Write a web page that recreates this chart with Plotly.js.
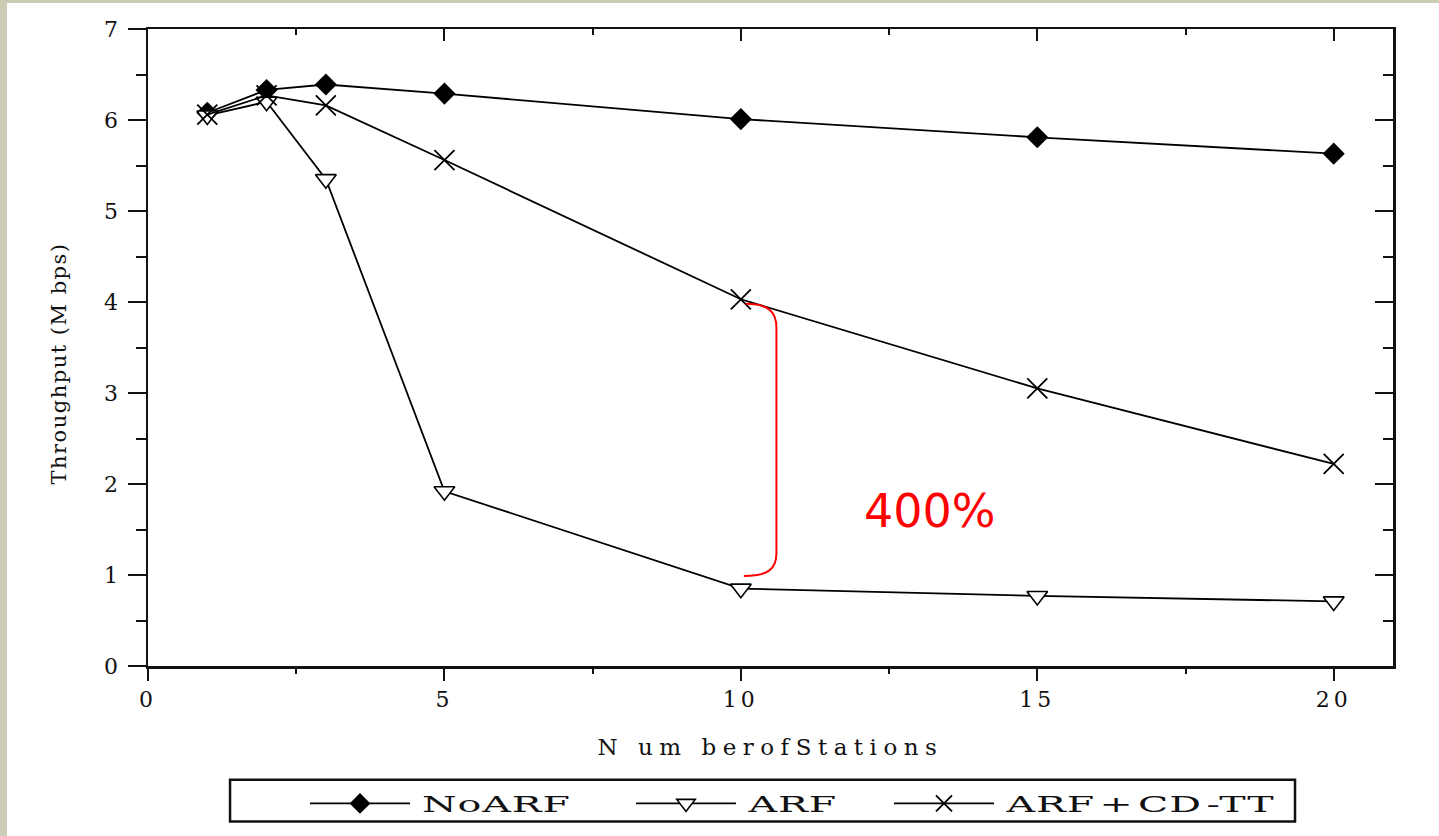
<!DOCTYPE html>
<html><head><meta charset="utf-8">
<script src="https://cdn.plot.ly/plotly-3.0.1.min.js"></script>
<style>
html,body{margin:0;padding:0;background:#cbcbb6;width:1439px;height:836px;overflow:hidden;}
#chart{position:absolute;left:7px;top:3px;width:1432px;height:833px;background:#fff;}
#chart .xtitle{letter-spacing:6.5px;}
#chart .ytitle{letter-spacing:1.5px;}
#chart .xtick text, #chart .ytick text{letter-spacing:4px;}
#chart .legendtext{transform:scaleX(1.8);transform-box:fill-box;transform-origin:0 50%;letter-spacing:0.5px;word-spacing:-5px;}
</style></head><body><div id="chart"></div>
<script>
// ---- data ----
const stations = [1, 2, 3, 5, 10, 15, 20];
const noArf    = [6.08, 6.33, 6.39, 6.29, 6.01, 5.81, 5.63];
const arf      = [6.05, 6.20, 5.35, 1.92, 0.85, 0.77, 0.71];
const arfCdtt  = [6.06, 6.27, 6.16, 5.56, 4.03, 3.05, 2.22];
const seriesNames = ['NoARF', 'ARF', 'ARF + CD -TT'];
const xTickVals = [0, 5, 10, 15, 20];
const yTickVals = [0, 1, 2, 3, 4, 5, 6, 7];
const xTitle = 'N um berofStations';
const yTitle = 'Throughput (M bps)';
const gainLabel = '400%';

const serif = 'DejaVu Serif, Liberation Serif, serif';
const lineStyle = {color: '#000', width: 1.8};

const data = [
  {x: stations, y: noArf, name: seriesNames[0], mode: 'lines+markers', line: lineStyle,
   marker: {symbol: 'diamond', size: 17, color: '#000'}, legendwidth: 204},
  {x: stations, y: arf, name: seriesNames[1], mode: 'lines+markers', line: lineStyle,
   marker: {symbol: 'triangle-down', size: 18, color: '#fff', line: {color: '#000', width: 1.6}}, legendwidth: 136},
  {x: stations, y: arfCdtt, name: seriesNames[2], mode: 'lines+markers', line: lineStyle,
   marker: {symbol: 'x-thin-open', size: 20, color: '#000', line: {color: '#000', width: 1.8}}, legendwidth: 320},
  {x: [], y: [], xaxis: 'x2', yaxis: 'y2', showlegend: false, hoverinfo: 'skip'}
];

const axisCommon = {showgrid: false, zeroline: false, showline: true, linecolor: '#111', linewidth: 2.5,
  tickcolor: '#111', tickwidth: 2, tickfont: {family: serif, size: 22, color: '#111'}};

const layout = {
  width: 1432, height: 833,
  margin: {l: 141, r: 46, t: 26, b: 168},
  paper_bgcolor: '#fff', plot_bgcolor: '#fff',
  showlegend: true,
  xaxis: Object.assign({}, axisCommon, {range: [0, 21], tickvals: xTickVals, ticks: 'outside', ticklen: 12,
    minor: {dtick: 2.5, tick0: 0, ticks: 'outside', ticklen: 5, tickcolor: '#111', tickwidth: 2},
    title: {text: xTitle, font: {family: serif, size: 23, color: '#111'}, standoff: 28}}),
  yaxis: Object.assign({}, axisCommon, {range: [0, 7], tickvals: yTickVals, ticks: 'outside', ticklen: 18,
    minor: {dtick: 0.5, tick0: 0, ticks: 'outside', ticklen: 10, tickcolor: '#111', tickwidth: 2},
    ticklabelstandoff: 1,
    title: {text: yTitle, font: {family: serif, size: 21, color: '#111'}, standoff: 36}}),
  xaxis2: Object.assign({}, axisCommon, {overlaying: 'x', side: 'top', anchor: 'y', range: [0, 21], tickvals: xTickVals,
    ticks: 'inside', ticklen: 12, showticklabels: false,
    minor: {dtick: 2.5, tick0: 0, ticks: 'inside', ticklen: 6, tickcolor: '#111', tickwidth: 2}}),
  yaxis2: Object.assign({}, axisCommon, {overlaying: 'y', side: 'right', anchor: 'x', range: [0, 7], tickvals: yTickVals,
    ticks: 'inside', ticklen: 18, showticklabels: false,
    minor: {dtick: 0.5, tick0: 0, ticks: 'inside', ticklen: 10, tickcolor: '#111', tickwidth: 2}}),
  legend: {orientation: 'h', x: 0.1261, xanchor: 'left', y: -0.216, yanchor: 'middle',
    bgcolor: 'rgba(0,0,0,0)', borderwidth: 0, itemwidth: 107,
    font: {family: serif, size: 22, color: '#111'}},
  shapes: [
    {type: 'rect', xref: 'paper', yref: 'paper', x0: 0.0659, x1: 0.9213, y0: -0.2441, y1: -0.1784,
     line: {color: '#111', width: 2.5}, fillcolor: 'rgba(0,0,0,0)'},
    {type: 'path', xref: 'x', yref: 'y',
     path: 'M 10.08,3.98 C 10.45,3.98 10.6,3.9 10.6,3.72 L 10.6,1.24 C 10.6,1.06 10.45,0.99 10.05,0.99',
     line: {color: '#ff0000', width: 2}}
  ],
  annotations: [
    {x: 13.19, y: 1.70, xref: 'x', yref: 'y', text: gainLabel, showarrow: false,
     font: {family: 'DejaVu Sans, Verdana, sans-serif', size: 46, color: '#ff0000'}}
  ]
};

Plotly.newPlot('chart', data, layout, {staticPlot: true, displayModeBar: false}).then(function (gd) {
  gd.querySelectorAll('.legend .traces').forEach(function (tr) {
    tr.querySelectorAll('.legendlines path').forEach(function (p) { p.setAttribute('d', 'M5,0h100'); });
    tr.querySelectorAll('.legendpoints path').forEach(function (p) { p.setAttribute('transform', 'translate(55,0)'); });
  });
  var yt = gd.querySelector('.ytitle');
  if (yt) { yt.setAttribute('transform', 'translate(0,16) ' + (yt.getAttribute('transform') || '')); }
});
</script></body></html>
